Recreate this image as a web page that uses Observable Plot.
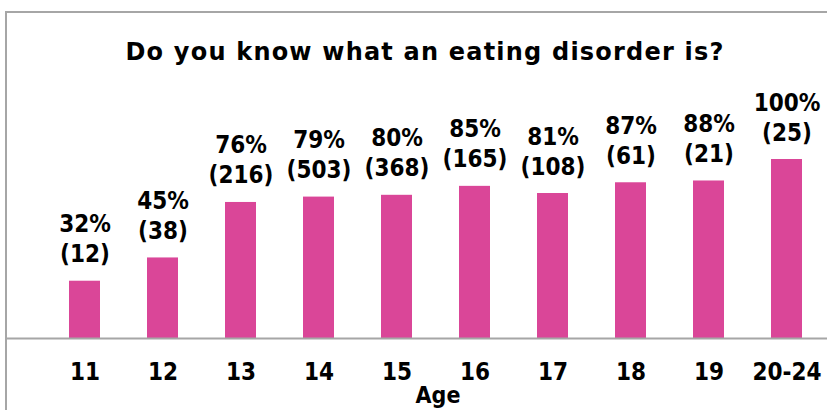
<!DOCTYPE html>
<html>
<head>
<meta charset="utf-8">
<script src="https://cdn.jsdelivr.net/npm/d3@7"></script>
<script src="https://cdn.jsdelivr.net/npm/@observablehq/plot@0.6"></script>
<style>
  html, body { margin: 0; padding: 0; background: #fff; }
  #wrap { position: relative; width: 827px; height: 410px; overflow: hidden; }
  #border { position: absolute; left: 5px; top: 11px; width: 830px; height: 410px;
            border-left: 2px solid #a6a6a6; border-top: 2px solid #a6a6a6; pointer-events: none; }
  .title-text text { letter-spacing: 1.2px; }
</style>
</head>
<body>
<div id="wrap"><div id="border"></div></div>
<script>
const title = "Do you know what an eating disorder is?";
const axisLabel = "Age";
const ages = ["11", "12", "13", "14", "15", "16", "17", "18", "19", "20-24"];
const percents = [32, 45, 76, 79, 80, 85, 81, 87, 88, 100];
const counts = [12, 38, 216, 503, 368, 165, 108, 61, 21, 25];

const data = ages.map((age, i) => ({age, pct: percents[i], n: counts[i]}));
const narrow = "'DejaVu Sans Condensed', 'DejaVu Sans', sans-serif";
const wide = "'DejaVu Sans', sans-serif";

const chart = Plot.plot({
  width: 827,
  height: 410,
  marginLeft: 6,
  marginRight: 0,
  marginTop: 12,
  marginBottom: 0,
  style: {fontFamily: narrow, fontWeight: "bold", color: "#000", background: "#fff"},
  x: {domain: ages, range: [45, 827], paddingInner: 0.6, paddingOuter: 0.3, axis: null},
  y: {domain: [0, 100], range: [338, 159], axis: null},
  marks: [
    Plot.barY(data, {x: "age", y: "pct", fill: "#DA4698"}),
    Plot.ruleY([0], {stroke: "#a6a6a6", strokeWidth: 2}),
    Plot.text(data, {x: "age", y: "pct", text: d => `${d.pct}%\n(${d.n})`,
      lineAnchor: "bottom", lineHeight: 1.25, dy: -19, fontSize: 24, fontFamily: narrow,
      fontWeight: "bold", fill: "#000"}),
    Plot.text(data, {x: "age", text: "age", frameAnchor: "bottom", lineAnchor: "bottom",
      dy: -31, fontSize: 24, fontFamily: narrow, fontWeight: "bold", fill: "#000"}),
    Plot.text([axisLabel], {frameAnchor: "bottom", dx: 21, dy: -8, lineAnchor: "bottom",
      fontSize: 23, fontFamily: narrow, fontWeight: "bold", fill: "#000"}),
    Plot.text([title], {frameAnchor: "top", dx: 8, dy: 30, lineAnchor: "top",
      fontSize: 24, fontFamily: wide, fontWeight: "bold", fill: "#000", className: "title-text"})
  ]
});
document.getElementById("wrap").prepend(chart);
</script>
</body>
</html>
